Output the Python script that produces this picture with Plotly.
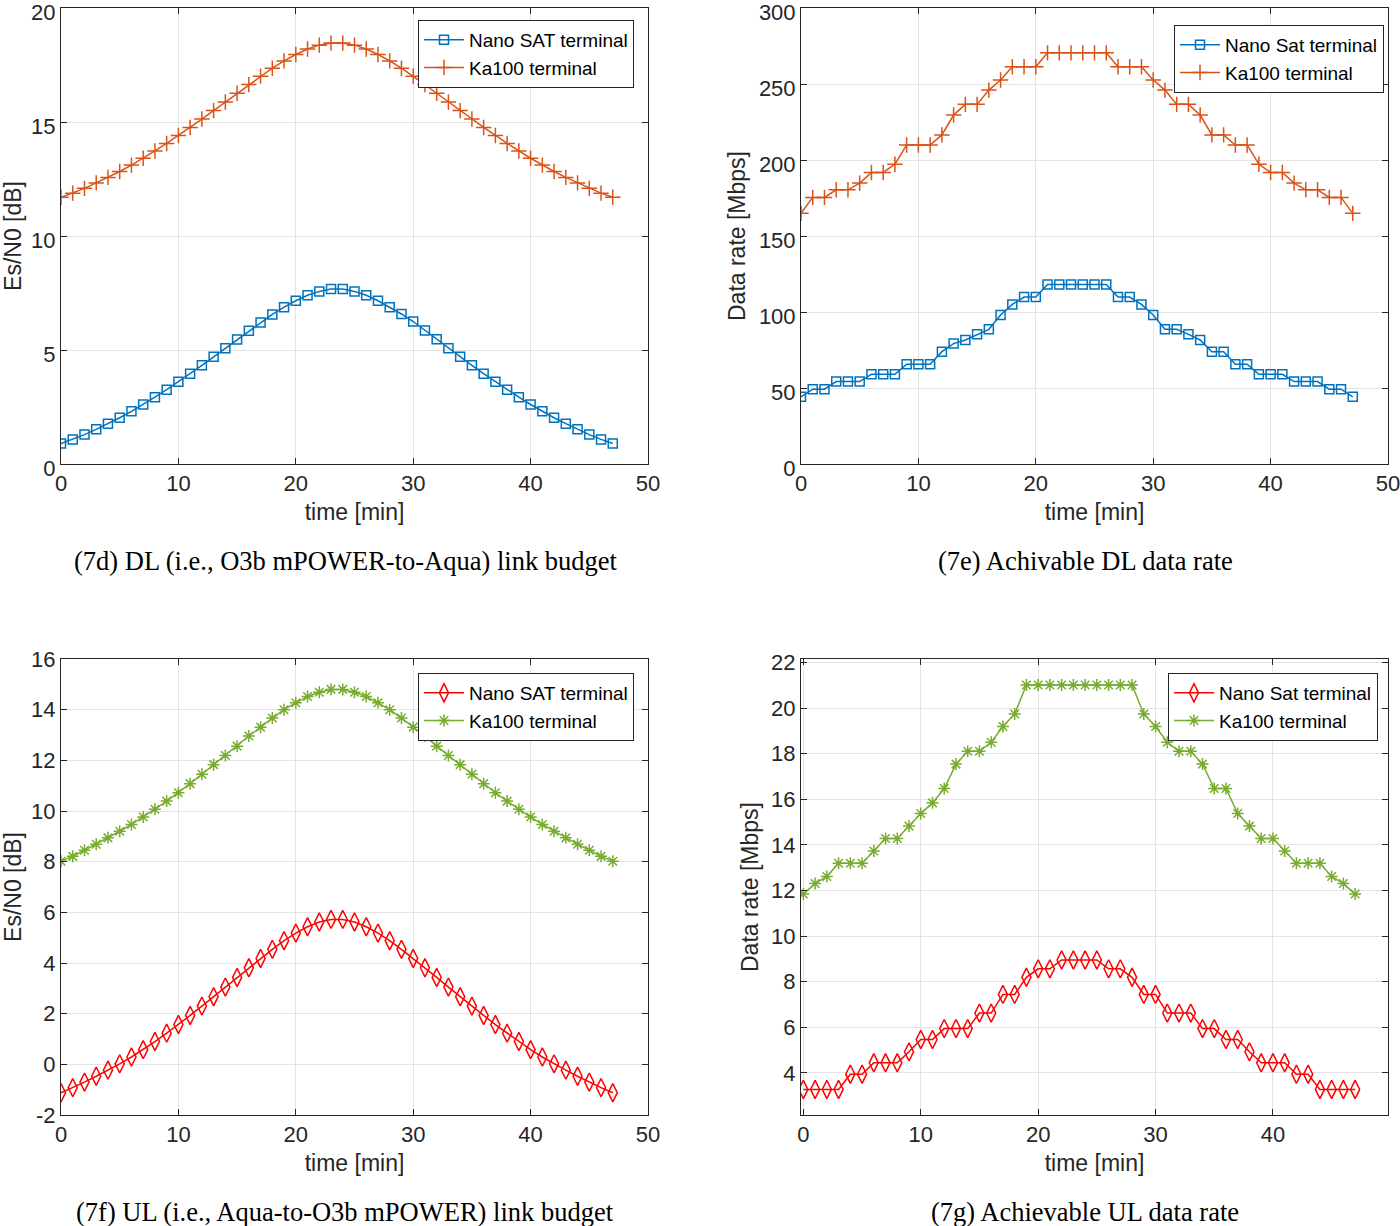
import plotly.graph_objects as go

# time axis, one sample per minute
time = list(range(48))

# (7d) DL Es/N0 [dB]
dl_esn0_nano = [0.90, 1.08, 1.29, 1.52, 1.77, 2.03, 2.31, 2.61, 2.93, 3.26, 3.61, 3.96,
                4.33, 4.70, 5.08, 5.46, 5.84, 6.21, 6.56, 6.88, 7.16, 7.40, 7.57, 7.67,
                7.67, 7.57, 7.40, 7.16, 6.88, 6.58, 6.25, 5.86, 5.47, 5.08, 4.70, 4.33,
                3.96, 3.61, 3.26, 2.93, 2.61, 2.31, 2.03, 1.77, 1.52, 1.29, 1.08, 0.90]
dl_esn0_ka = [11.70, 11.88, 12.09, 12.33, 12.57, 12.83, 13.11, 13.41, 13.73, 14.06, 14.41, 14.76,
              15.13, 15.50, 15.88, 16.26, 16.64, 17.01, 17.36, 17.68, 17.96, 18.20, 18.37, 18.46,
              18.46, 18.37, 18.20, 17.96, 17.68, 17.36, 17.01, 16.64, 16.26, 15.88, 15.50, 15.13,
              14.76, 14.41, 14.06, 13.73, 13.41, 13.11, 12.83, 12.57, 12.33, 12.09, 11.88, 11.70]

# (7e) DL data rate [Mbps]
dl_rate_nano = [44.2, 49.2, 49.2, 54.2, 54.2, 54.2, 59.0, 59.0, 59.0, 65.6, 65.6, 65.6,
                73.9, 79.2, 81.6, 85.3, 88.6, 98.0, 105.0, 109.8, 109.8, 118.1, 118.1, 118.1,
                118.1, 118.1, 118.1, 109.8, 109.8, 105.0, 98.0, 88.6, 88.6, 85.3, 81.6, 73.9,
                73.9, 65.6, 65.6, 59.0, 59.0, 59.0, 54.2, 54.2, 54.2, 49.2, 49.2, 44.2]
dl_rate_ka = [164.9, 175.4, 175.4, 180.4, 180.4, 184.8, 191.8, 191.8, 197.2, 209.9, 209.9, 209.9,
              216.5, 229.6, 236.6, 236.6, 246.0, 252.6, 261.3, 261.3, 261.3, 270.5, 270.5, 270.5,
              270.5, 270.5, 270.5, 261.3, 261.3, 261.3, 252.6, 246.0, 236.6, 236.6, 229.6, 216.5,
              216.5, 209.9, 209.9, 197.2, 191.8, 191.8, 184.8, 180.4, 180.4, 175.4, 175.4, 164.9]

# (7f) UL Es/N0 [dB]
ul_esn0_nano = [-1.12, -0.92, -0.70, -0.47, -0.23, 0.02, 0.29, 0.58, 0.90, 1.23, 1.57, 1.93,
                2.30, 2.67, 3.05, 3.43, 3.81, 4.18, 4.54, 4.88, 5.18, 5.43, 5.62, 5.72,
                5.72, 5.62, 5.43, 5.18, 4.88, 4.54, 4.18, 3.81, 3.43, 3.05, 2.67, 2.30,
                1.93, 1.57, 1.23, 0.90, 0.58, 0.29, 0.02, -0.23, -0.47, -0.70, -0.92, -1.12]
ul_esn0_ka = [8.02, 8.21, 8.45, 8.69, 8.94, 9.20, 9.47, 9.76, 10.07, 10.39, 10.72, 11.08,
              11.45, 11.83, 12.19, 12.56, 12.96, 13.31, 13.67, 14.00, 14.27, 14.52, 14.69, 14.80,
              14.80, 14.69, 14.52, 14.27, 14.00, 13.67, 13.31, 12.96, 12.56, 12.19, 11.83, 11.45,
              11.08, 10.72, 10.39, 10.07, 9.76, 9.47, 9.20, 8.94, 8.69, 8.45, 8.21, 8.02]

# (7g) UL data rate [Mbps]
ul_rate_nano = [3.27, 3.27, 3.27, 3.27, 3.94, 3.94, 4.44, 4.44, 4.44, 4.92, 5.46, 5.46,
                5.94, 5.94, 5.94, 6.62, 6.62, 7.44, 7.44, 8.19, 8.56, 8.56, 8.95, 8.95,
                8.95, 8.95, 8.56, 8.56, 8.19, 7.44, 7.44, 6.62, 6.62, 6.62, 5.94, 5.94,
                5.46, 5.46, 4.92, 4.44, 4.44, 4.44, 3.94, 3.94, 3.27, 3.27, 3.27, 3.27]
ul_rate_ka = [11.84, 12.30, 12.61, 13.19, 13.19, 13.19, 13.73, 14.28, 14.28, 14.82, 15.37, 15.84,
              16.47, 17.54, 18.10, 18.10, 18.50, 19.19, 19.74, 21.01, 21.01, 21.01, 21.01, 21.01,
              21.01, 21.01, 21.01, 21.01, 21.01, 19.74, 19.19, 18.50, 18.10, 18.10, 17.54, 16.47,
              16.47, 15.37, 14.82, 14.28, 14.28, 13.73, 13.19, 13.19, 13.19, 12.61, 12.30, 11.84]

BLUE = "#0072BD"
ORANGE = "#D95319"
RED = "#FF0000"
GREEN = "#77AC30"
W, H = 1400, 1226

fig = go.Figure()


def add(y, name, color, symbol, size, n, leg):
    fig.add_trace(go.Scatter(
        x=time, y=y, name=name, mode="lines+markers",
        line=dict(color=color, width=1.5),
        marker=dict(symbol=symbol, size=size, color=color,
                    line=dict(color=color, width=1.5)),
        xaxis="x" + n, yaxis="y" + n, legend=leg))


add(dl_esn0_nano, "Nano SAT terminal", BLUE, "square-open", 9, "", "legend")
add(dl_esn0_ka, "Ka100 terminal", ORANGE, "cross-thin-open", 11, "", "legend")
add(dl_rate_nano, "Nano Sat terminal", BLUE, "square-open", 9, "2", "legend2")
add(dl_rate_ka, "Ka100 terminal", ORANGE, "cross-thin-open", 11, "2", "legend2")
add(ul_esn0_nano, "Nano SAT terminal", RED, "diamond-tall-open", 13, "3", "legend3")
add(ul_esn0_ka, "Ka100 terminal", GREEN, "asterisk-open", 10, "3", "legend3")
add(ul_rate_nano, "Nano Sat terminal", RED, "diamond-tall-open", 13, "4", "legend4")
add(ul_rate_ka, "Ka100 terminal", GREEN, "asterisk-open", 10, "4", "legend4")


def dom_x(a, b):
    return [a / W, b / W]


def dom_y(top, bottom):
    return [1 - bottom / H, 1 - top / H]


axis_style = dict(
    showline=True, linecolor="#262626", linewidth=1, mirror="ticks",
    ticks="inside", ticklen=6, tickcolor="#262626", automargin=False,
    ticklabeloverflow="allow",
    showgrid=True, gridcolor="#e3e3e3", gridwidth=1, zeroline=False,
    tickfont=dict(family="Liberation Sans", size=22, color="#262626"),
)
title_font = dict(family="Liberation Sans", size=23, color="#262626")


def xax(dom, rng, anchor):
    return dict(axis_style, domain=dom, range=rng, anchor=anchor, dtick=10, tick0=0,
                title=dict(text="time [min]", font=title_font, standoff=8))


def yax(dom, rng, anchor, title, **kw):
    return dict(axis_style, domain=dom, range=rng, anchor=anchor,
                title=dict(text=title, font=title_font, standoff=6), **kw)


left = dom_x(61, 648)
right = dom_x(801, 1388)
top = dom_y(8, 464)
bottom = dom_y(659, 1115)

ul_ticks = list(range(-2, 17, 2))

fig.update_layout(
    width=W, height=H,
    margin=dict(l=0, r=0, t=0, b=0),
    paper_bgcolor="white", plot_bgcolor="white",
    font=dict(family="Liberation Sans", color="#262626"),
    xaxis=xax(left, [0, 50], "y"),
    yaxis=yax(top, [0, 20], "x", "Es/N0 [dB]", dtick=5, ticklabelshift=4),
    xaxis2=xax(right, [0, 50], "y2"),
    yaxis2=yax(top, [0, 300], "x2", "Data rate [Mbps]", dtick=50, ticklabelshift=4),
    xaxis3=xax(left, [0, 50], "y3"),
    yaxis3=yax(bottom, [-2, 16], "x3", "Es/N0 [dB]",
               tickvals=ul_ticks, ticktext=[str(v) for v in ul_ticks]),
    xaxis4=xax(right, [-0.2, 49.8], "y4"),
    yaxis4=yax(bottom, [2.15, 22.15], "x4", "Data rate [Mbps]", tick0=4, dtick=2),
)

leg_style = dict(bgcolor="white", bordercolor="#262626", borderwidth=1,
                 font=dict(family="Liberation Sans", size=19, color="black"),
                 xanchor="right", yanchor="top", tracegroupgap=0, itemwidth=40)
fig.update_layout(
    legend=dict(leg_style, x=634 / W, y=1 - 20 / H),
    legend2=dict(leg_style, x=1384 / W, y=1 - 25 / H),
    legend3=dict(leg_style, x=634 / W, y=1 - 673 / H),
    legend4=dict(leg_style, x=1378 / W, y=1 - 673 / H),
)

captions = [
    ("(7d) DL (i.e., O3b mPOWER-to-Aqua) link budget", 346, 561),
    ("(7e) Achivable DL data rate", 1085, 561),
    ("(7f) UL (i.e., Aqua-to-O3b mPOWER) link budget", 345, 1212),
    ("(7g) Achievable UL data rate", 1085, 1212),
]
for text, cx, cy in captions:
    fig.add_annotation(text=text, x=cx / W, y=1 - cy / H, xref="paper", yref="paper",
                       showarrow=False, xanchor="center", yanchor="middle",
                       font=dict(family="Liberation Serif", size=26.5, color="black"))

# drop the browser's default page margin so the figure sits at the top-left corner
fig.write_html("out.html", config={"displayModeBar": False},
               post_script="document.body.style.margin='0';document.body.style.overflow='hidden';")
